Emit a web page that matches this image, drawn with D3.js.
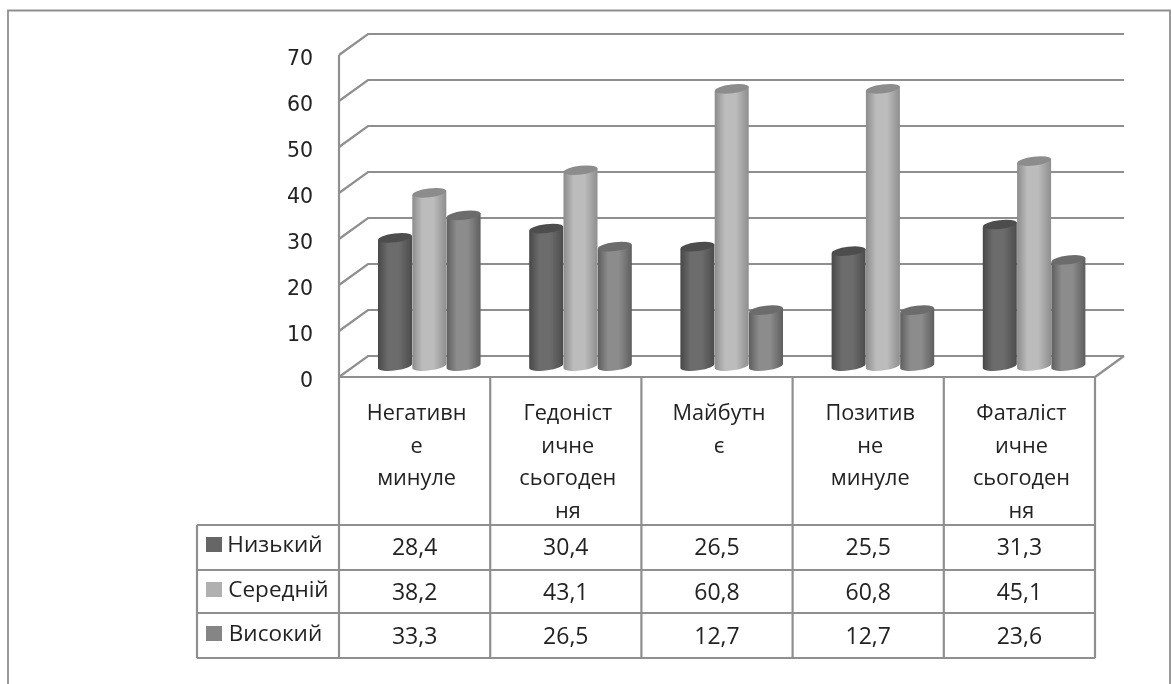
<!DOCTYPE html>
<html><head><meta charset="utf-8">
<script src="https://cdn.jsdelivr.net/npm/d3@7/dist/d3.min.js"></script>
<style>html,body{margin:0;padding:0;background:#fff;overflow:hidden}svg{display:block}
text{font-family:"Open Sans",sans-serif;fill:#222}</style></head><body>
<svg id="c" width="1171" height="684"></svg>
<script>
const categories=[["Негативн","е","минуле"],["Гедоніст","ичне","сьогоден","ня"],["Майбутн","є"],["Позитив","не","минуле"],["Фаталіст","ичне","сьогоден","ня"]];
const seriesNames=["Низький","Середній","Високий"];
const low=[28.4,30.4,26.5,25.5,31.3];
const mid=[38.2,43.1,60.8,60.8,45.1];
const high=[33.3,26.5,12.7,12.7,23.6];
const yTicks=[0,10,20,30,40,50,60,70];
const seriesValues=[low,mid,high];
const fills=[["#484848","#6c6c6c","#4c4c4c","#4e4e4e","#666666"],["#8c8c8c","#bcbcbc","#8e8e8e","#8c8c8c","#b0b0b0"],["#5e5e5e","#8c8c8c","#5e5e5e","#6c6c6c","#858585"]];
const lineC="#8f8f8f";
const svg=d3.select("#c");
const defs=svg.append("defs");
defs.append("filter").attr("id","soft").attr("x","-2%").attr("y","-2%").attr("width","104%").attr("height","104%").append("feGaussianBlur").attr("stdDeviation",0.45);
fills.forEach((f,i)=>{const g=defs.append("linearGradient").attr("id","g"+i);
 [[0,f[0]],[.3,f[1]],[.62,f[1]],[1,f[2]]].forEach(s=>g.append("stop").attr("offset",s[0]).attr("stop-color",s[1]));});
const root=svg.append("g").attr("filter","url(#soft)");
root.append("path").attr("d","M8,684V10.5H1170V684").attr("fill","none").attr("stroke",lineC).attr("stroke-width",1.8);
const y=d3.scaleLinear().domain([0,70]).range([377,55]);
const x=d3.scaleBand().domain(d3.range(5)).range([339,1095]);
const dx=29,dy=21;
const grid=root.append("g").attr("fill","none").attr("stroke",lineC).attr("stroke-width",2.2);
grid.selectAll("path").data(yTicks).join("path")
 .attr("d",d=>`M339,${y(d)}L${339+dx},${y(d)-dy}H1124`);
grid.append("path").attr("d",`M339,${y(0)}V${y(70)}`);
grid.append("path").attr("d",`M1095,${y(0)}L1124,${y(0)-dy}`);
const ax=root.append("g").attr("transform","translate(316,2.5)").call(d3.axisLeft(y).tickValues(yTicks).tickSize(0).tickPadding(3));
ax.select(".domain").remove();
ax.selectAll("text").style("font-family",'"DejaVu Sans",sans-serif').style("font-size","20.5px").attr("fill","#222");
const bw=34,rx=bw/2,ry=4.4,tilt=2.2,lift=8.5;
const xb=d3.scaleBand().domain([0,1,2]).range([0,bw*3]);
const groups=root.selectAll("g.grp").data(d3.range(5)).join("g").attr("class","grp").attr("transform",i=>`translate(${x(i)+39},0)`);
groups.each(function(i){const g=d3.select(this);
 seriesValues.forEach((vals,s)=>{
  const x0=xb(s)+s*0.3, x1=x0+bw, yt=y(vals[i])-lift, yb=y(0)-11;
  g.append("path").attr("fill",`url(#g${s})`)
   .attr("d",`M${x0},${yt+tilt}V${yb+tilt}A${rx},${ry} -7 0 0 ${x1},${yb-tilt}V${yt-tilt}Z`);
  g.append("ellipse").attr("cx",(x0+x1)/2).attr("cy",yt).attr("rx",rx).attr("ry",ry)
   .attr("transform",`rotate(-7 ${(x0+x1)/2} ${yt})`).attr("fill",fills[s][3]);
 });
});
const rows=[525,570,613,658];
const tbl=root.append("g").attr("stroke",lineC).attr("stroke-width",2.2).attr("fill","none");
tbl.append("path").attr("d",`M339,377H1095`);
rows.forEach(r=>tbl.append("path").attr("d",`M197,${r}H1095`));
tbl.append("path").attr("d",`M197,525V658`);
d3.range(6).forEach(i=>tbl.append("path").attr("d",`M${x(i)??1095},377V658`));
categories.forEach((lines,i)=>{
 lines.forEach((l,k)=>root.append("text").attr("x",x(i)+x.bandwidth()/2+2).attr("y",412+k*32.7).attr("dy","0.36em")
  .attr("text-anchor","middle").style("font-size","21.7px").text(l));
});
const fmt=d3.formatLocale({decimal:",",thousands:" ",grouping:[3],currency:["",""]}).format(".1f");
const rowCY=[547,592,636];
const nameX=[275,278.5,275.5];
seriesValues.forEach((vals,s)=>{
 root.append("rect").attr("x",206).attr("y",rowCY[s]-2-8).attr("width",16).attr("height",15).attr("fill",fills[s][4]);
 root.append("text").attr("x",nameX[s]).attr("y",rowCY[s]-3).attr("dy","0.36em").attr("text-anchor","middle").style("font-size","22.5px").text(seriesNames[s]);
 vals.forEach((v,i)=>root.append("text").attr("x",x(i)+x.bandwidth()/2).attr("y",rowCY[s]).attr("dy","0.36em")
  .attr("text-anchor","middle").style("font-size","23px").text(fmt(v)));
});
</script></body></html>
